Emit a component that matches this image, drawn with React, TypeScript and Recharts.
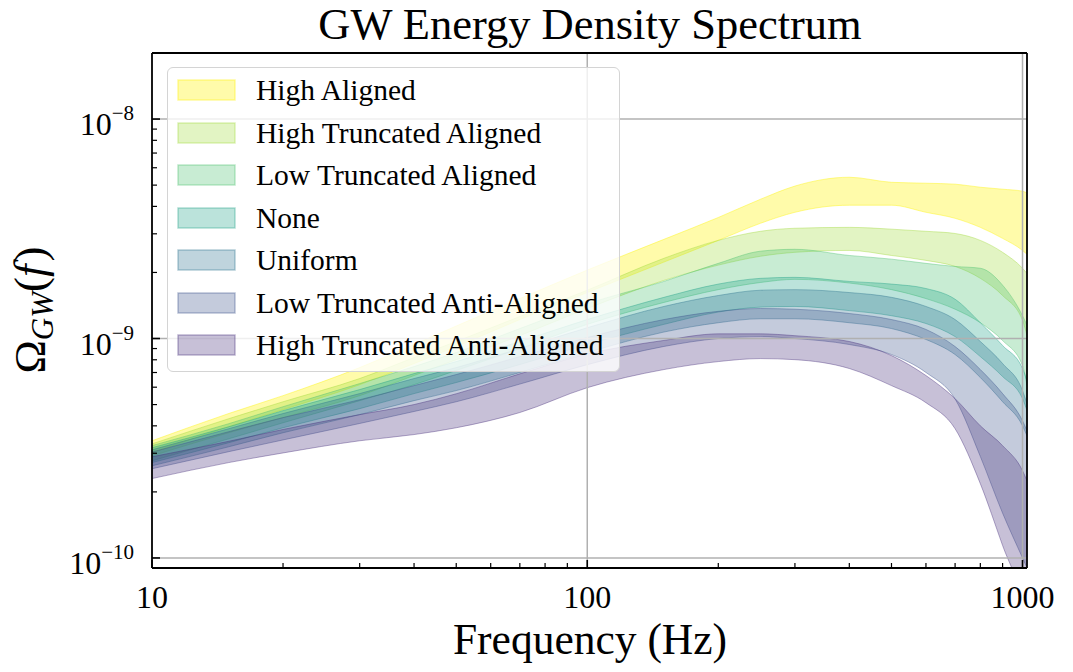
import { ComposedChart, Area, XAxis, YAxis, ReferenceLine } from 'recharts'

const freqs = [10, 15, 20, 30, 40, 50, 70, 100, 150, 200, 250, 300, 400, 500, 600, 700, 800, 900, 1000, 1024]

const highAlignedHi = [3.42e-10, 4.55e-10, 5.49e-10, 7.37e-10, 9.39e-10, 1.14e-9, 1.52e-9, 2.05e-9, 2.83e-9, 3.56e-9, 4.31e-9, 4.95e-9, 5.43e-9, 5.15e-9, 5.1e-9, 5.05e-9, 4.89e-9, 4.79e-9, 4.69e-9, 4.6e-9]
const highAlignedLo = [3.01e-10, 3.96e-10, 4.74e-10, 6.16e-10, 7.69e-10, 9.19e-10, 1.22e-9, 1.62e-9, 2.23e-9, 2.8e-9, 3.35e-9, 3.76e-9, 4.05e-9, 4.05e-9, 3.76e-9, 3.53e-9, 3.21e-9, 2.86e-9, 2.52e-9, 2.42e-9]

const highTruncAlignedHi = [3.31e-10, 4.31e-10, 5.15e-10, 6.57e-10, 8.19e-10, 9.69e-10, 1.26e-9, 1.66e-9, 2.32e-9, 2.8e-9, 3.08e-9, 3.18e-9, 3.21e-9, 3.15e-9, 3.08e-9, 3.01e-9, 2.8e-9, 2.47e-9, 2.09e-9, 1.98e-9]
const highTruncAlignedLo = [2.92e-10, 3.72e-10, 4.36e-10, 5.49e-10, 6.78e-10, 8.01e-10, 1.03e-9, 1.37e-9, 1.84e-9, 2.16e-9, 2.37e-9, 2.47e-9, 2.52e-9, 2.39e-9, 2.27e-9, 2.13e-9, 1.88e-9, 1.57e-9, 1.21e-9, 1.03e-9]

const lowTruncAlignedHi = [3.25e-10, 4.09e-10, 4.89e-10, 6.23e-10, 7.45e-10, 8.63e-10, 1.11e-9, 1.44e-9, 1.82e-9, 2.2e-9, 2.5e-9, 2.55e-9, 2.39e-9, 2.3e-9, 2.2e-9, 2.13e-9, 2.09e-9, 1.75e-9, 1.27e-9, 1.15e-9]
const lowTruncAlignedLo = [2.77e-10, 3.49e-10, 4.13e-10, 5.21e-10, 6.16e-10, 7.15e-10, 9.0e-10, 1.16e-9, 1.46e-9, 1.67e-9, 1.8e-9, 1.86e-9, 1.79e-9, 1.67e-9, 1.52e-9, 1.36e-9, 1.18e-9, 9.79e-10, 7.53e-10, 6.1e-10]

const noneHi = [3.18e-10, 3.96e-10, 4.69e-10, 5.85e-10, 6.92e-10, 7.85e-10, 9.69e-10, 1.22e-9, 1.54e-9, 1.77e-9, 1.88e-9, 1.9e-9, 1.82e-9, 1.77e-9, 1.69e-9, 1.51e-9, 1.18e-9, 9.29e-10, 7.3e-10, 6.43e-10]
const noneLo = [2.72e-10, 3.35e-10, 3.92e-10, 4.79e-10, 5.61e-10, 6.3e-10, 7.61e-10, 9.39e-10, 1.16e-9, 1.32e-9, 1.39e-9, 1.4e-9, 1.34e-9, 1.27e-9, 1.17e-9, 1.02e-9, 8.27e-10, 6.71e-10, 5.32e-10, 4.69e-10]

const uniformHi = [3.11e-10, 3.88e-10, 4.55e-10, 5.61e-10, 6.57e-10, 7.37e-10, 9.0e-10, 1.12e-9, 1.4e-9, 1.57e-9, 1.66e-9, 1.67e-9, 1.62e-9, 1.54e-9, 1.4e-9, 1.22e-9, 9.69e-10, 7.69e-10, 5.79e-10, 5.05e-10]
const uniformLo = [2.63e-10, 3.21e-10, 3.72e-10, 4.5e-10, 5.21e-10, 5.79e-10, 7.0e-10, 8.63e-10, 1.07e-9, 1.18e-9, 1.23e-9, 1.23e-9, 1.18e-9, 1.11e-9, 9.9e-10, 8.45e-10, 6.64e-10, 5.15e-10, 4.0e-10, 3.6e-10]

const lowTruncAntiHi = [3.04e-10, 3.76e-10, 4.36e-10, 5.26e-10, 6.1e-10, 6.85e-10, 8.27e-10, 1.01e-9, 1.22e-9, 1.33e-9, 1.37e-9, 1.36e-9, 1.3e-9, 1.22e-9, 1.1e-9, 9.19e-10, 7.22e-10, 5.61e-10, 4.22e-10, 3.8e-10]
const lowTruncAntiLo = [2.55e-10, 3.05e-10, 3.45e-10, 4.1e-10, 4.65e-10, 5.15e-10, 6.2e-10, 7.6e-10, 9.2e-10, 1.0e-9, 1.02e-9, 1.0e-9, 9.39e-10, 8.45e-10, 7.0e-10, 5.3e-10, 2.9e-10, 1.6e-10, 1.0e-10, 9.0e-11]

const highTruncAntiHi = [2.89e-10, 3.4e-10, 3.85e-10, 4.5e-10, 5.0e-10, 5.6e-10, 6.9e-10, 8.5e-10, 9.8e-10, 1.05e-9, 1.05e-9, 1.03e-9, 9.69e-10, 8.36e-10, 6.78e-10, 5.32e-10, 4.0e-10, 3.25e-10, 2.5e-10, 2.25e-10]
const highTruncAntiLo = [2.3e-10, 2.72e-10, 3.01e-10, 3.42e-10, 3.65e-10, 3.92e-10, 4.6e-10, 5.97e-10, 7.22e-10, 7.85e-10, 8.1e-10, 8.01e-10, 7.3e-10, 6.1e-10, 5.1e-10, 3.88e-10, 2.18e-10, 1.14e-10, 6.36e-11, 5.15e-11]

const xTicks = [10, 20, 30, 40, 50, 60, 70, 80, 90, 100, 200, 300, 400, 500, 600, 700, 800, 900, 1000]
const yTicks = [
  1e-10, 2e-10, 3e-10, 4e-10, 5e-10, 6e-10, 7e-10, 8e-10, 9e-10,
  1e-9, 2e-9, 3e-9, 4e-9, 5e-9, 6e-9, 7e-9, 8e-9, 9e-9,
  1e-8, 2e-8,
]

const series = [
  { key: 'ha', name: 'High Aligned', color: '#fef52a', alpha: 0.4, lo: highAlignedLo, hi: highAlignedHi },
  { key: 'hta', name: 'High Truncated Aligned', color: '#a0da39', alpha: 0.3, lo: highTruncAlignedLo, hi: highTruncAlignedHi },
  { key: 'lta', name: 'Low Truncated Aligned', color: '#4ac16d', alpha: 0.3, lo: lowTruncAlignedLo, hi: lowTruncAlignedHi },
  { key: 'none', name: 'None', color: '#1fa187', alpha: 0.3, lo: noneLo, hi: noneHi },
  { key: 'uni', name: 'Uniform', color: '#2c728e', alpha: 0.3, lo: uniformLo, hi: uniformHi },
  { key: 'ltaa', name: 'Low Truncated Anti-Aligned', color: '#3b528b', alpha: 0.3, lo: lowTruncAntiLo, hi: lowTruncAntiHi },
  { key: 'htaa', name: 'High Truncated Anti-Aligned', color: '#472d7b', alpha: 0.3, lo: highTruncAntiLo, hi: highTruncAntiHi },
]

const data = freqs.map((f, i) => {
  const row: Record<string, number | number[]> = { f }
  series.forEach((s) => {
    row[s.key] = [s.lo[i], s.hi[i]]
  })
  return row
})

const FONT = '"Liberation Serif", "DejaVu Serif", serif'
const PLOT_LEFT = 152
const PLOT_BOTTOM = 568
const isMajor = (v: number) => Math.abs(Math.log10(v) - Math.round(Math.log10(v))) < 1e-6

function XTick(props: any) {
  const { x, payload } = props
  const y = PLOT_BOTTOM
  const major = isMajor(payload.value)
  return (
    <g>
      <line x1={x} x2={x} y1={y} y2={y - (major ? 8 : 5)} stroke="#000" strokeWidth={major ? 1.6 : 1.2} />
      {major && (
        <text x={x} y={y + 40} textAnchor="middle" fontFamily={FONT} fontSize={32} fill="#000">
          {payload.value}
        </text>
      )}
    </g>
  )
}

function YTick(props: any) {
  const { y, payload } = props
  const x = PLOT_LEFT
  const major = isMajor(payload.value)
  const exp = Math.round(Math.log10(payload.value))
  return (
    <g>
      <line x1={x} x2={x + (major ? 8 : 5)} y1={y} y2={y} stroke="#000" strokeWidth={major ? 1.6 : 1.2} />
      {major && payload.value < 1.5e-8 && (
        <text x={x - 18} y={y + 16} textAnchor="end" fontFamily={FONT} fontSize={32} fill="#000">
          <tspan>10</tspan>
          <tspan dy={-15} fontSize={21}>{'\u2212' + Math.abs(exp)}</tspan>
        </text>
      )}
    </g>
  )
}

function Legend() {
  return (
    <div
      style={{
        position: 'absolute',
        left: 167,
        top: 67,
        width: 453,
        height: 305,
        background: 'rgba(255,255,255,0.8)',
        border: '1.5px solid #d4d4d4',
        borderRadius: 6,
        boxSizing: 'border-box',
      }}
    >
      {series.map((s, i) => (
        <div
          key={s.key}
          style={{ position: 'absolute', left: 9, top: 11 + i * 42.5, height: 22, display: 'flex', alignItems: 'center' }}
        >
          <svg width={60} height={22}>
            <rect x={1} y={1} width={57} height={20} fill={s.color} fillOpacity={s.alpha} stroke={s.color} strokeOpacity={s.alpha + 0.05} strokeWidth={1.5} />
          </svg>
          <span style={{ marginLeft: 19, fontFamily: FONT, fontSize: 29.5, color: '#000', whiteSpace: 'nowrap', lineHeight: '22px' }}>
            {s.name}
          </span>
        </div>
      ))}
    </div>
  )
}

export default function App() {
  return (
    <div style={{ position: 'absolute', left: 0, top: 0, width: 1073, height: 672, background: '#fff' }}>
      <ComposedChart width={1073} height={672} data={data} margin={{ top: 53, right: 46, bottom: 44, left: 72 }}>
        <XAxis
          dataKey="f"
          type="number"
          scale="log"
          domain={[10, 1024]}
          allowDataOverflow
          ticks={xTicks}
          interval={0}
          tick={(p: any) => <XTick {...p} />}
          tickLine={false}
          height={60}
          axisLine={{ stroke: '#000', strokeWidth: 1.8 }}
        />
        <YAxis
          type="number"
          scale="log"
          domain={[9e-11, 2e-8]}
          allowDataOverflow
          ticks={yTicks}
          interval={0}
          tick={(p: any) => <YTick {...p} />}
          tickLine={false}
          width={80}
          axisLine={{ stroke: '#000', strokeWidth: 1.8 }}
        />
        {[100, 1000].map((v) => (
          <ReferenceLine key={'gx' + v} x={v} stroke="#b0b0b0" strokeWidth={1.5} />
        ))}
        {[1e-10, 1e-9, 1e-8].map((v) => (
          <ReferenceLine key={'gy' + v} y={v} stroke="#b0b0b0" strokeWidth={1.5} />
        ))}
        {series.map((s) => (
          <Area
            key={s.key}
            dataKey={s.key}
            name={s.name}
            type="monotone"
            fill={s.color}
            fillOpacity={s.alpha}
            stroke={s.color}
            strokeOpacity={s.alpha + 0.1}
            strokeWidth={1}
            isAnimationActive={false}
            dot={false}
            activeDot={false}
          />
        ))}
        <ReferenceLine y={2e-8} stroke="#000" strokeWidth={1.8} />
        <ReferenceLine x={1024} stroke="#000" strokeWidth={1.8} />
      </ComposedChart>
      <svg width={1073} height={672} style={{ position: 'absolute', left: 0, top: 0, pointerEvents: 'none' }}>
        <text x={590} y={39} textAnchor="middle" fontFamily={FONT} fontSize={44.5} fill="#000">
          GW Energy Density Spectrum
        </text>
        <text x={590} y={654} textAnchor="middle" fontFamily={FONT} fontSize={43.5} fill="#000">
          Frequency (Hz)
        </text>
        <text transform="translate(45,310) rotate(-90)" textAnchor="middle" fontFamily={FONT} fontSize={45} fill="#000">
          <tspan>Ω</tspan>
          <tspan fontStyle="italic" fontSize={31} dy={8}>GW</tspan>
          <tspan dy={-8}>(</tspan>
          <tspan fontStyle="italic">f</tspan>
          <tspan dx={3}>)</tspan>
        </text>
      </svg>
      <Legend />
    </div>
  )
}
